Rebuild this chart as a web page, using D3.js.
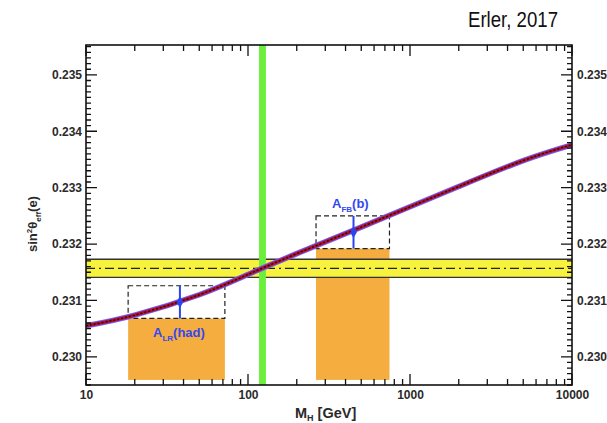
<!DOCTYPE html>
<html>
<head>
<meta charset="utf-8">
<script src="https://cdn.jsdelivr.net/npm/d3@7"></script>
<style>
  body { margin: 0; background: #fff; }
  text { font-family: "Liberation Sans", Arial, sans-serif; }
</style>
</head>
<body>
<div id="chart"></div>
<script>
// SM prediction of sin2theta_eff vs Higgs mass
const curveMH = [10, 20, 50, 100, 200, 500, 1000, 2000, 5000, 10000];
const curveS2 = [0.23055, 0.23074, 0.23110, 0.23146, 0.23183, 0.23230, 0.23266, 0.23302, 0.23348, 0.23376];

// world average band
const bandCenter = 0.23157;
const bandErr = 0.00016;

// Higgs mass band
const higgsMH = [117, 129];

// measurements
const measNames = ["A_LR(had)", "A_FB(b)"];
const measMH = [38, 448];
const measMHRange = [[18.2, 72], [263, 747]];
const measS2 = [0.23097, 0.23221];
const measErr = [0.00029, 0.00029];

const xMajor = [10, 100, 1000, 10000];
const yMajor = [0.230, 0.231, 0.232, 0.233, 0.234, 0.235];

const width = 607, height = 423;
const pLeft = 86, pRight = 572, pTop = 45, pBottom = 385;
const yMin = 0.2295, yMax = 0.23553;

const svg = d3.select("#chart").append("svg")
    .attr("width", width)
    .attr("height", height);

const x = d3.scaleLog().domain([10, 10000]).range([pLeft, pRight]);
const y = d3.scaleLinear().domain([yMin, yMax]).range([pBottom, pTop]);

svg.append("defs").append("clipPath").attr("id", "clip")
    .append("rect").attr("x", pLeft).attr("y", pTop)
    .attr("width", pRight - pLeft).attr("height", pBottom - pTop);

const plot = svg.append("g").attr("clip-path", "url(#clip)");

// orange boxes (below measurement)
plot.selectAll("rect.orange")
    .data(measNames)
    .enter().append("rect")
    .attr("class", "orange")
    .attr("x", (d, i) => x(measMHRange[i][0]))
    .attr("width", (d, i) => x(measMHRange[i][1]) - x(measMHRange[i][0]))
    .attr("y", (d, i) => y(measS2[i] - measErr[i]))
    .attr("height", (d, i) => y(0.22959) - y(measS2[i] - measErr[i]))
    .attr("fill", "#f4ad3e");

// yellow band
plot.append("rect")
    .attr("x", pLeft).attr("width", pRight - pLeft)
    .attr("y", y(bandCenter + bandErr))
    .attr("height", y(bandCenter - bandErr) - y(bandCenter + bandErr))
    .attr("fill", "#f7f23e");
[bandCenter + bandErr, bandCenter - bandErr].forEach(v => {
    plot.append("line")
        .attr("x1", pLeft).attr("x2", pRight)
        .attr("y1", y(v)).attr("y2", y(v))
        .attr("stroke", "#333").attr("stroke-width", 1.3);
});
plot.append("line")
    .attr("x1", pLeft).attr("x2", pRight)
    .attr("y1", y(bandCenter)).attr("y2", y(bandCenter))
    .attr("stroke", "#222").attr("stroke-width", 1.3)
    .attr("stroke-dasharray", "9,4,2,4,9,4,9,4");

// green Higgs band
plot.append("rect")
    .attr("x", x(higgsMH[0]))
    .attr("width", x(higgsMH[1]) - x(higgsMH[0]))
    .attr("y", pTop).attr("height", pBottom - pTop)
    .attr("fill", "#6cee3c");

// dashed boxes
plot.selectAll("rect.dbox")
    .data(measNames)
    .enter().append("rect")
    .attr("class", "dbox")
    .attr("x", (d, i) => x(measMHRange[i][0]))
    .attr("width", (d, i) => x(measMHRange[i][1]) - x(measMHRange[i][0]))
    .attr("y", (d, i) => y(measS2[i] + measErr[i]))
    .attr("height", (d, i) => y(measS2[i] - measErr[i]) - y(measS2[i] + measErr[i]))
    .attr("fill", "none")
    .attr("stroke", "#222")
    .attr("stroke-width", 1.2)
    .attr("stroke-dasharray", "5,3");

// SM curve
const curveData = curveMH.map((m, i) => ({ m: m, v: curveS2[i] }));
const line = d3.line()
    .x(d => x(d.m))
    .y(d => y(d.v))
    .curve(d3.curveNatural);
plot.append("path").datum(curveData)
    .attr("d", line).attr("fill", "none")
    .attr("stroke", "#6a5cff").attr("stroke-width", 5.5);
plot.append("path").datum(curveData)
    .attr("d", line).attr("fill", "none")
    .attr("stroke", "#b3122a").attr("stroke-width", 3.4);
plot.append("path").datum(curveData)
    .attr("d", line).attr("fill", "none")
    .attr("stroke", "#2a0008").attr("stroke-width", 1.3)
    .attr("stroke-dasharray", "2,2");

// measurement points
measNames.forEach((name, i) => {
    plot.append("line")
        .attr("x1", x(measMH[i])).attr("x2", x(measMH[i]))
        .attr("y1", y(measS2[i] + measErr[i]))
        .attr("y2", y(measS2[i] - measErr[i]))
        .attr("stroke", "#2a45f0").attr("stroke-width", 2);
    plot.append("path")
        .attr("d", d3.symbol().type(d3.symbolDiamond).size(40)())
        .attr("transform", `translate(${x(measMH[i])},${y(measS2[i])})`)
        .attr("fill", "#2a45f0");
});

// measurement labels
const labelPos = [[153, 336.5], [332, 208]];
measNames.forEach((name, i) => {
    const parts = name.split("_");
    const sub = parts[1].match(/^[A-Z]+/)[0];
    const rest = parts[1].slice(sub.length);
    const t = svg.append("text")
        .attr("x", labelPos[i][0]).attr("y", labelPos[i][1])
        .attr("fill", "#3448f0")
        .style("font-size", "13px").style("font-weight", "bold");
    t.append("tspan").text(parts[0]);
    t.append("tspan").attr("dy", 4).style("font-size", "8px").text(sub);
    t.append("tspan").attr("dy", -4).text(rest);
});

// frame
svg.append("rect")
    .attr("x", pLeft).attr("y", pTop)
    .attr("width", pRight - pLeft).attr("height", pBottom - pTop)
    .attr("fill", "none").attr("stroke", "#111").attr("stroke-width", 1.6);

// tick marks, inward on all four sides, as one path
const xMinor = x.ticks().filter(t => xMajor.indexOf(t) < 0);
const yMinor = d3.range(0, 61).map(k => 0.2295 + k * 0.0001).filter(v => v <= yMax);
const tp = d3.path();
function addX(vals, len) {
    vals.forEach(d => {
        tp.moveTo(x(d), pBottom); tp.lineTo(x(d), pBottom - len);
        tp.moveTo(x(d), pTop); tp.lineTo(x(d), pTop + len);
    });
}
function addY(vals, len) {
    vals.forEach(d => {
        tp.moveTo(pLeft, y(d)); tp.lineTo(pLeft + len, y(d));
        tp.moveTo(pRight, y(d)); tp.lineTo(pRight - len, y(d));
    });
}
addX(xMinor, 6);
addX(xMajor, 11);
addY(yMinor, 5);
addY(yMajor, 11);
svg.append("path")
    .attr("d", tp.toString())
    .attr("fill", "none")
    .attr("stroke", "#111")
    .attr("stroke-width", 1.3);

// tick labels
function labels(axis, tr) {
    const g = svg.append("g").attr("transform", tr).call(axis);
    g.select(".domain").remove();
    g.selectAll(".tick line").remove();
    g.selectAll("text")
        .style("font-size", "12px").style("font-weight", "bold")
        .attr("fill", "#2a2a2a");
}
const fmtY = d3.format(".3f");
labels(d3.axisBottom(x).tickValues(xMajor).tickSize(0).tickPadding(5)
    .tickFormat(d3.format("d")), `translate(0,${pBottom})`);
labels(d3.axisLeft(y).tickValues(yMajor).tickSize(0).tickPadding(4)
    .tickFormat(fmtY), `translate(${pLeft},0)`);
labels(d3.axisRight(y).tickValues(yMajor).tickSize(0).tickPadding(5)
    .tickFormat(fmtY), `translate(${pRight},0)`);

// axis titles
const xt = svg.append("text")
    .attr("x", 295).attr("y", 418)
    .attr("fill", "#2a2a2a")
    .style("font-size", "14.5px").style("font-weight", "bold");
xt.append("tspan").text("M");
xt.append("tspan").attr("dy", 3).style("font-size", "9px").text("H");
xt.append("tspan").attr("dy", -3).text(" [GeV]");

const yt = svg.append("text")
    .attr("transform", "translate(37,252) rotate(-90)")
    .attr("fill", "#2a2a2a")
    .style("font-size", "13px").style("font-weight", "bold");
yt.append("tspan").text("sin");
yt.append("tspan").attr("dy", -5).style("font-size", "8px").text("2");
yt.append("tspan").attr("dy", 5).text("θ");
yt.append("tspan").attr("dy", 4).style("font-size", "8px").text("eff");
yt.append("tspan").attr("dy", -4).text("(e)");

// credit
svg.append("text")
    .attr("x", 468).attr("y", 27)
    .attr("fill", "#111")
    .attr("textLength", 90)
    .attr("lengthAdjust", "spacingAndGlyphs")
    .style("font-size", "22px")
    .text("Erler, 2017");
</script>
</body>
</html>
